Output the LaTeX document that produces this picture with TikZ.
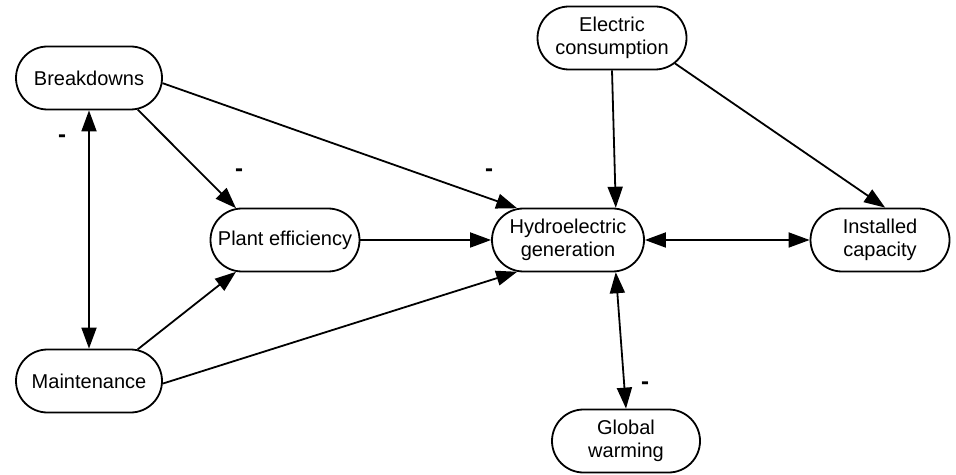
\documentclass[tikz,border=0pt]{standalone}
\usepackage{fontspec}
\setmainfont{Liberation Sans}
\usetikzlibrary{arrows.meta,shapes.misc}

\tikzset{
  factor/.style={draw,rounded rectangle,line width=0.9pt,align=center,
    minimum height=31.5pt,inner sep=2pt,font=\fontsize{10}{11.5}\selectfont},
  sign/.style={font=\fontsize{12}{14}\selectfont\bfseries}
}

\begin{document}
\begin{tikzpicture}[x=0.5pt,y=-0.5pt,>={Triangle[length=10.5pt,width=7.5pt]},line width=0.9pt]
  \useasboundingbox (0,0) rectangle (956,475);
  % --- factors ---
  \node[factor,minimum width=77pt]   (brk)  at (89,78)   {Breakdowns};
  \node[factor,minimum width=77pt]   (mnt)  at (89,381)  {Maintenance};
  \node[factor,minimum width=78.5pt] (pe)   at (285,240) {Plant efficiency};
  \node[factor,minimum width=80pt]   (hyd)  at (568,240) {Hydroelectric\\generation};
  \node[factor,minimum width=78.5pt] (ec)   at (612,38)  {Electric\\consumption};
  \node[factor,minimum width=73.5pt] (inst) at (880,240) {Installed\\capacity};
  \node[factor,minimum width=78pt]   (glob) at (626,441) {Global\\warming};
  % --- influences ---
  \draw[->]  (brk.-33) -- (pe.147);
  \draw[->]  (brk.-4)  -- (hyd.148);
  \draw[<->] (brk.south) -- (mnt.north);
  \draw[->]  (mnt.33)  -- (pe.-147);
  \draw[->]  (mnt.-2)  -- (hyd.-148);
  \draw[->]  (pe.east) -- (hyd.west);
  \draw[->]  (ec.south) -- (hyd.34);
  \draw[->]  (ec.-22)  -- (inst.81);
  \draw[<->] (hyd.east) -- (inst.west);
  \draw[<->] (hyd.-34) -- (glob.north);
  % --- negative signs ---
  \node[sign] (s1) at (62,139)  {-};
  \node[sign] (s2) at (239,173) {-};
  \node[sign] (s3) at (489,173) {-};
  \node[sign] (s4) at (645,386) {-};
\end{tikzpicture}
\end{document}
